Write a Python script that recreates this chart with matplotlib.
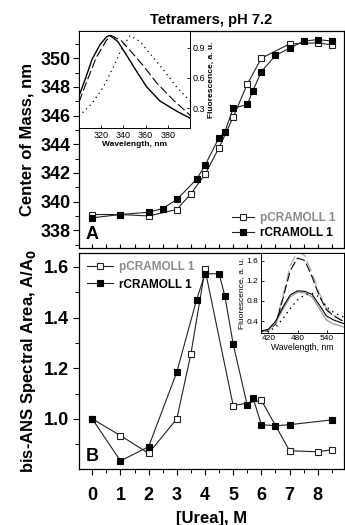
import matplotlib
matplotlib.use("Agg")
import matplotlib.pyplot as plt
from matplotlib.ticker import MultipleLocator

plt.rcParams['font.family'] = ['Liberation Sans', 'DejaVu Sans']

# ---- Panel A data (center of mass) ----
urea_p_A = [0, 1, 2, 3, 3.5, 4, 4.5, 5, 5.5, 6, 7, 8, 8.5]
com_p = [339.1, 339.1, 339.0, 339.45, 340.55, 341.9, 343.77, 345.9, 348.2, 350.0, 351.0, 351.07, 350.93]
urea_r_A = [0, 1, 2, 2.5, 3, 3.7, 4, 4.5, 4.7, 5, 5.5, 5.7, 6, 6.5, 7, 7.5, 8, 8.5]
com_r = [338.87, 339.1, 339.26, 339.52, 340.15, 341.55, 342.53, 344.47, 344.86, 346.5, 346.78,
         347.75, 349.07, 350.2, 350.7, 351.2, 351.3, 351.2]

# ---- Panel B data (bis-ANS area) ----
urea_p_B = [0, 1, 2, 3, 3.5, 4, 5, 6, 7, 8, 8.5]
area_p = [1.0, 0.934, 0.864, 1.0, 1.257, 1.59, 1.052, 1.073, 0.874, 0.870, 0.878]
urea_r_B = [0, 1, 2, 3, 3.7, 4, 4.5, 4.7, 5, 5.5, 5.7, 6, 6.5, 7, 8.5]
area_r = [1.0, 0.834, 0.89, 1.185, 1.47, 1.573, 1.573, 1.487, 1.295, 1.053, 1.083, 0.977,
          0.973, 0.977, 0.996]

# ---- Inset A spectra ----
wlA_solid = [300, 306, 312, 319, 325, 328, 335, 342, 351, 361, 373, 388, 400]
flA_solid = [0.42, 0.60, 0.79, 0.93, 1.01, 1.02, 0.96, 0.84, 0.68, 0.51, 0.37, 0.27, 0.20]
wlA_dash = [300, 306.5, 315.5, 324.5, 329, 338, 347, 358, 370, 385, 400]
flA_dash = [0.36, 0.55, 0.80, 0.97, 1.02, 0.97, 0.86, 0.72, 0.55, 0.38, 0.23]
wlA_dot = [300, 312, 322, 331, 338, 346, 355, 364, 376, 388, 400]
flA_dot = [0.22, 0.35, 0.51, 0.71, 0.88, 1.02, 0.96, 0.84, 0.68, 0.51, 0.37]

# ---- Inset B spectra ----
wlB = [405, 420, 435, 450, 465, 480, 495, 510, 525, 540, 555, 570, 576]
flB_grey_dash = [0.20, 0.22, 0.35, 0.90, 1.50, 1.78, 1.70, 1.35, 0.95, 0.65, 0.52, 0.42, 0.40]
flB_black_dash = [0.20, 0.22, 0.34, 0.85, 1.40, 1.65, 1.60, 1.28, 0.90, 0.62, 0.50, 0.42, 0.40]
flB_black_solid = [0.20, 0.24, 0.40, 0.68, 0.92, 1.00, 0.99, 0.93, 0.72, 0.50, 0.42, 0.37, 0.35]
flB_grey_solid = [0.18, 0.22, 0.37, 0.64, 0.88, 0.97, 0.96, 0.88, 0.65, 0.42, 0.34, 0.30, 0.28]
flB_dot = [0.20, 0.20, 0.28, 0.45, 0.65, 0.82, 0.92, 0.95, 0.88, 0.68, 0.57, 0.50, 0.48]

labels = ['pCRAMOLL 1', 'rCRAMOLL 1']
label_colors = ['#8c8c8c', 'black']
xticks = [0, 1, 2, 3, 4, 5, 6, 7, 8]

W, H = 345, 525
fig = plt.figure(figsize=(W / 100, H / 100), dpi=100)

def fx(px):
    return px / W

def fy(py):
    return 1 - py / H

L, R = 79, 344
axA = fig.add_axes([fx(L), fy(247.5), fx(R - L), (247.5 - 31) / H])
axB = fig.add_axes([fx(L), fy(469), fx(R - L), (469 - 253) / H])

line_kw = dict(color='#222222', lw=0.8)
ms = 5
for ax, xp, yp, xr, yr in [(axA, urea_p_A, com_p, urea_r_A, com_r),
                           (axB, urea_p_B, area_p, urea_r_B, area_r)]:
    ax.plot(xp, yp, marker='s', ms=ms, mfc='white', mec='#222222', mew=0.8,
            label=labels[0], **line_kw)
    ax.plot(xr, yr, marker='s', ms=ms, mfc='black', mec='black', mew=0.8,
            label=labels[1], **line_kw)
    ax.set_xlim(-0.47, 8.93)
    for s in ax.spines.values():
        s.set_linewidth(0.9)

# Panel A axes
axA.set_ylim(336.8, 351.9)
axA.yaxis.set_major_locator(MultipleLocator(2))
axA.yaxis.set_minor_locator(MultipleLocator(1))
axA.xaxis.set_major_locator(MultipleLocator(0.5))
axA.tick_params(axis='x', direction='in', length=3, width=0.8, labelbottom=False)
axA.tick_params(axis='y', which='major', direction='out', length=4, width=0.8,
                labelsize=13, pad=2)
axA.tick_params(axis='y', which='minor', direction='out', length=3, width=0.7)
for t in axA.get_yticklabels():
    t.set_fontweight('bold')
axA.set_ylabel('Center of Mass, nm', fontsize=12, fontweight='bold', labelpad=4)
axA.set_title('Tetramers, pH 7.2', fontsize=10.5, fontweight='bold', pad=5, x=0.5)
axA.text(0.025, 0.02, 'A', transform=axA.transAxes, fontsize=13, fontweight='bold',
         ha='left', va='bottom')
axA.legend(loc='lower right', bbox_to_anchor=(1.0, 0.0), frameon=False,
           handlelength=1.9, handletextpad=0.5, labelspacing=0.25,
           borderaxespad=0.3, labelcolor=label_colors, prop={'weight': 'bold', 'size': 8.5})

# Panel B axes
axB.set_ylim(0.802, 1.655)
axB.yaxis.set_major_locator(MultipleLocator(0.2))
axB.yaxis.set_minor_locator(MultipleLocator(0.1))
axB.set_xticks(xticks)
axB.xaxis.set_minor_locator(MultipleLocator(0.5))
axB.tick_params(axis='both', which='major', direction='out', length=4, width=0.8,
                labelsize=13, pad=3)
axB.tick_params(axis='both', which='minor', direction='out', length=3, width=0.7)
axB.tick_params(axis='x', which='major', pad=9)
for t in axB.get_yticklabels() + axB.get_xticklabels():
    t.set_fontweight('bold')
axB.yaxis.set_major_formatter(plt.FuncFormatter(lambda v, p: f'{v:.1f}'))
axB.set_ylabel('bis-ANS Spectral Area, A/A$_\\mathbf{0}$', fontsize=12, fontweight='bold',
               labelpad=4)
axB.set_xlabel('[Urea], M', fontsize=12, fontweight='bold', labelpad=5)
axB.text(0.025, 0.02, 'B', transform=axB.transAxes, fontsize=13, fontweight='bold',
         ha='left', va='bottom')
axB.legend(loc='upper left', bbox_to_anchor=(0.0, 1.0), frameon=False,
           handlelength=2.2, handletextpad=0.5, labelspacing=0.45,
           borderaxespad=0.3, labelcolor=label_colors, prop={'weight': 'bold', 'size': 8.5})

# Inset A
insA = fig.add_axes([fx(L), fy(128.3), fx(190 - L), (128.3 - 31) / H])
insA.plot(wlA_solid, flA_solid, color='black', lw=1.0, ls='-')
insA.plot(wlA_dash, flA_dash, color='black', lw=0.8, ls=(0, (8, 3)))
insA.plot(wlA_dot, flA_dot, color='black', lw=0.9, ls=(0, (1, 3)))
insA.set_xlim(300, 400)
insA.set_ylim(0.10, 1.065)
insA.set_xticks([300, 320, 340, 360, 380, 400])
insA.set_xticklabels(['', '320', '340', '360', '380', ''])
insA.set_yticks([0.3, 0.6, 0.9])
insA.yaxis.tick_right()
insA.yaxis.set_label_position('right')
insA.tick_params(axis='both', direction='in', length=2, width=0.6, labelsize=6.5, pad=2)
insA.set_xlabel('Wavelength, nm', fontsize=6, fontweight='bold', labelpad=0.5)
insA.set_ylabel('Fluorescence, a. u.', fontsize=6, fontweight='bold', labelpad=2)
for s in insA.spines.values():
    s.set_linewidth(0.7)

# Inset B
insB = fig.add_axes([fx(260.7), fy(332.7), fx(R - 260.7), (332.7 - 253) / H])
insB.plot(wlB, flB_grey_dash, color='#b0b0b0', lw=1.0, ls=(0, (8, 3)))
insB.plot(wlB, flB_black_dash, color='black', lw=0.8, ls=(0, (8, 3)))
insB.plot(wlB, flB_grey_solid, color='#a0a0a0', lw=1.0, ls='-')
insB.plot(wlB, flB_black_solid, color='black', lw=0.8, ls='-')
insB.plot(wlB, flB_dot, color='black', lw=1.0, ls=(0, (1, 3)))
insB.set_xlim(404, 576)
insB.set_ylim(0.17, 1.75)
insB.set_xticks([420, 480, 540])
insB.set_yticks([0.4, 0.8, 1.2, 1.6])
insB.tick_params(axis='both', direction='in', length=2, width=0.6, labelsize=6, pad=2)
insB.set_xlabel('Wavelength, nm', fontsize=6.2, labelpad=0.5)
insB.set_ylabel('Fluorescence, a. u.', fontsize=6, labelpad=1)
for s in insB.spines.values():
    s.set_linewidth(0.7)

fig.savefig('out.png', dpi=100)
